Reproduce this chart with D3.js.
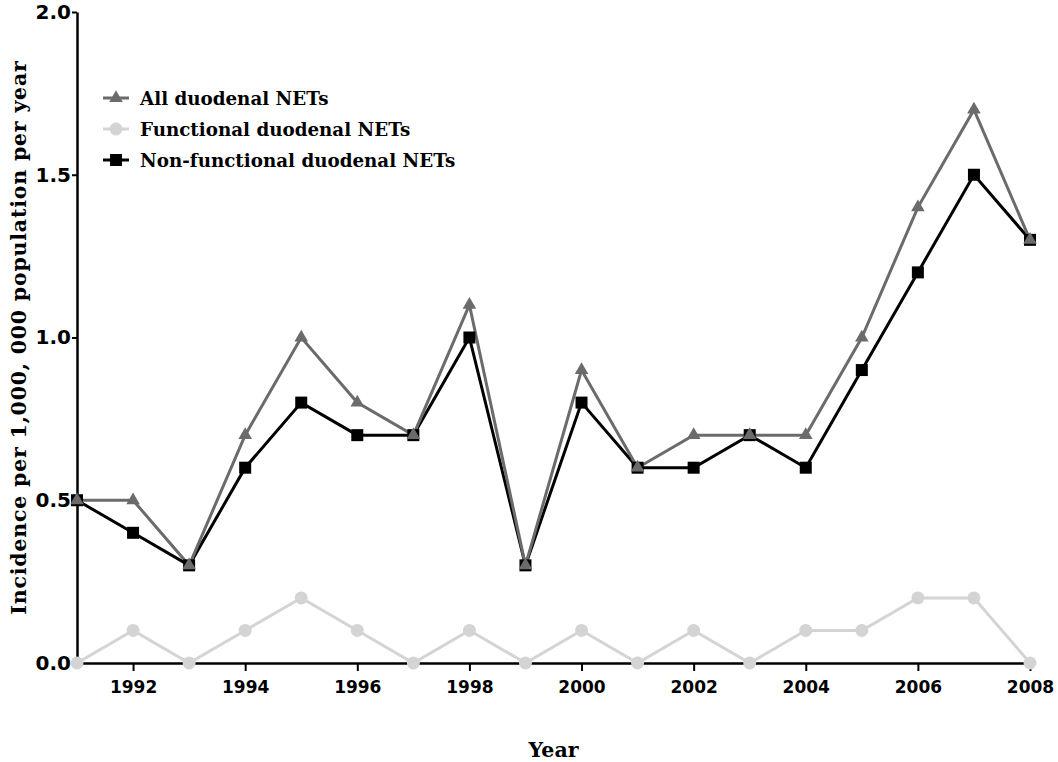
<!DOCTYPE html>
<html>
<head>
<meta charset="utf-8">
<script src="https://cdn.jsdelivr.net/npm/d3@7"></script>
<style>
  body { margin: 0; background: #fff; }
  .tick text { font-family: "DejaVu Sans", sans-serif; font-weight: bold; }
</style>
</head>
<body>
<div class="container"></div>
<script>
let width = 1058
let height = 762
let margin = { left: 77, right: 28, top: 12, bottom: 99 }

const years = d3.range(1991, 2009)
const allNets = [0.5, 0.5, 0.3, 0.7, 1.0, 0.8, 0.7, 1.1, 0.3, 0.9, 0.6, 0.7, 0.7, 0.7, 1.0, 1.4, 1.7, 1.3]
const functionalNets = [0, 0.1, 0, 0.1, 0.2, 0.1, 0, 0.1, 0, 0.1, 0, 0.1, 0, 0.1, 0.1, 0.2, 0.2, 0]
const nonFunctionalNets = [0.5, 0.4, 0.3, 0.6, 0.8, 0.7, 0.7, 1.0, 0.3, 0.8, 0.6, 0.6, 0.7, 0.6, 0.9, 1.2, 1.5, 1.3]
const xTicks = [1992, 1994, 1996, 1998, 2000, 2002, 2004, 2006, 2008]
const yTicks = [0, 0.5, 1.0, 1.5, 2.0]

const series = [
    { name: 'All duodenal NETs', values: allNets, color: '#6b6b6b', marker: 'triangle' },
    { name: 'Functional duodenal NETs', values: functionalNets, color: '#d4d4d4', marker: 'circle' },
    { name: 'Non-functional duodenal NETs', values: nonFunctionalNets, color: '#000000', marker: 'square' }
]

let svg = d3.select('.container')
    .append('svg')
    .attr('width', width)
    .attr('height', height)

let x = d3.scaleLinear()
    .domain([1991, 2008])
    .range([margin.left, width - margin.right])

let y = d3.scaleLinear()
    .domain([0, 2])
    .range([height - margin.bottom, margin.top])

// axes
let xAxis = svg.append('g')
    .attr('transform', `translate(0, ${height - margin.bottom})`)
    .call(d3.axisBottom(x).tickValues(xTicks).tickFormat(d3.format('d')).tickSize(8).tickSizeOuter(0))
xAxis.select('.domain').attr('stroke', '#000').attr('stroke-width', 2.5)
xAxis.selectAll('.tick line').attr('stroke-width', 2)
xAxis.selectAll('.tick text').attr('font-size', 17).attr('dy', '1.1em')

let yAxis = svg.append('g')
    .attr('transform', `translate(${margin.left}, 0)`)
    .call(d3.axisLeft(y).tickValues(yTicks).tickFormat(d3.format('.1f')).tickSize(5).tickSizeOuter(0))
yAxis.select('.domain').attr('stroke', '#000').attr('stroke-width', 2.5)
yAxis.selectAll('.tick line').attr('stroke-width', 2)
yAxis.selectAll('.tick text').attr('font-size', 20).attr('x', -6)

// lines and markers
let line = d3.line()
    .x((d, i) => x(years[i]))
    .y(d => y(d))

function drawMarker(g, type, color) {
    if (type === 'triangle') {
        g.append('path').attr('d', d3.symbol().type(d3.symbolTriangle).size(80)()).attr('fill', color)
    } else if (type === 'circle') {
        g.append('circle').attr('r', 6.5).attr('fill', color)
    } else {
        g.append('rect').attr('x', -6).attr('y', -6).attr('width', 12).attr('height', 12).attr('fill', color)
    }
}

series.slice().reverse().forEach(s => {
    svg.append('path')
        .datum(s.values)
        .attr('fill', 'none')
        .attr('stroke', s.color)
        .attr('stroke-width', 3)
        .attr('d', line)
})

series.slice().reverse().forEach(s => {
    svg.append('g')
        .selectAll('g')
        .data(s.values)
        .enter()
        .append('g')
        .attr('transform', (d, i) => `translate(${x(years[i])}, ${y(d)})`)
        .each(function () { drawMarker(d3.select(this), s.marker, s.color) })
})

// legend
let legend = svg.append('g').attr('transform', 'translate(103, 98)')
series.forEach((s, i) => {
    let row = legend.append('g').attr('transform', `translate(0, ${i * 31})`)
    row.append('line').attr('x1', 0).attr('x2', 26).attr('stroke', s.color).attr('stroke-width', 3)
    let m = row.append('g').attr('transform', 'translate(13, 0)')
    drawMarker(m, s.marker, s.color)
    row.append('text')
        .attr('x', 37)
        .attr('y', 7)
        .attr('font-family', 'DejaVu Serif, serif')
        .attr('font-weight', 'bold')
        .attr('font-size', 18.3)
        .text(s.name)
})

// axis titles
svg.append('text')
    .attr('x', (margin.left + width - margin.right) / 2)
    .attr('y', 757)
    .attr('text-anchor', 'middle')
    .attr('font-family', 'DejaVu Serif, serif')
    .attr('font-weight', 'bold')
    .attr('font-size', 20.5)
    .text('Year')

svg.append('text')
    .attr('transform', `translate(26, ${(margin.top + height - margin.bottom) / 2}) rotate(-90)`)
    .attr('text-anchor', 'middle')
    .attr('font-family', 'DejaVu Serif, serif')
    .attr('font-weight', 'bold')
    .attr('font-size', 20.5)
    .attr('letter-spacing', 0.8)
    .text('Incidence per 1,000, 000 population per year')
</script>
</body>
</html>
